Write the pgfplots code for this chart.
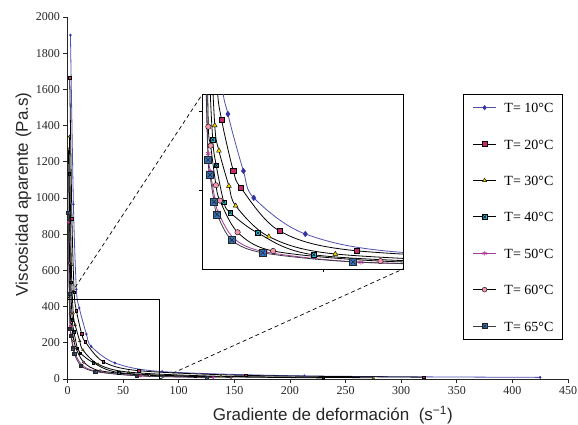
\documentclass[border=0pt]{standalone}
\usepackage{fontspec}
\setmainfont{Liberation Serif}
\newfontfamily\arial{Liberation Sans}
\usepackage{pgfplots}
\pgfplotsset{compat=1.18}
\usepackage{pgfplotstable}

\definecolor{cA}{RGB}{50,50,160}
\definecolor{cAl}{RGB}{80,80,175}
\definecolor{cB}{RGB}{200,40,110}
\definecolor{cC}{RGB}{240,210,0}
\definecolor{cD}{RGB}{30,195,225}
\definecolor{cE}{RGB}{190,50,150}
\definecolor{cEl}{RGB}{160,60,150}
\definecolor{cF}{RGB}{245,150,170}
\definecolor{cG}{RGB}{50,115,195}
\definecolor{cGl}{RGB}{60,60,70}

\pgfdeclareplotmark{sqx}{%
  \pgfpathrectangle{\pgfqpoint{-\pgfplotmarksize}{-\pgfplotmarksize}}{\pgfqpoint{2\pgfplotmarksize}{2\pgfplotmarksize}}%
  \pgfusepathqfillstroke
  \pgfpathmoveto{\pgfqpoint{-.65\pgfplotmarksize}{-.65\pgfplotmarksize}}%
  \pgfpathlineto{\pgfqpoint{.65\pgfplotmarksize}{.65\pgfplotmarksize}}%
  \pgfpathmoveto{\pgfqpoint{-.65\pgfplotmarksize}{.65\pgfplotmarksize}}%
  \pgfpathlineto{\pgfqpoint{.65\pgfplotmarksize}{-.65\pgfplotmarksize}}%
  \pgfusepathqstroke}

\pgfplotstableread{
x y
2.66 1900
5.32 965
7.98 495
10.6 392
17.0 248
21.3 180
42.6 88.6
85.1 41
213 17
425 9
}\tA
\pgfplotstableread{
x y
2.0 1665
4.0 885
6.0 480
8.0 377
12.8 249
16.0 205
32.0 96
64.0 46
160 20
320 10
}\tB
\pgfplotstableread{
x y
1.72 1340
3.44 630
5.16 363
6.88 299
11.0 210
13.8 160
27.5 82
55.0 38
138 15
275 7
}\tC
\pgfplotstableread{
x y
1.44 1134
2.88 534
4.32 327
5.76 262
8.9 169
11.5 143
23.0 91
46.1 36
115 15
230 6
}\tD
\pgfplotstableread{
x y
0.82 866
1.64 470
2.46 292
3.28 247
5.25 176
6.56 144
13.1 77
26.2 43
65.6 17
131 8.5
}\tE
\pgfplotstableread{
x y
0.92 1270
1.84 640
2.5 360
3.45 312
5.65 212
7.3 173
14.6 93
29.3 45.6
73.7 20
147 10
}\tF
\pgfplotstableread{
x y
0.78 918
1.56 470
2.4 276
3.15 238
4.9 170
6.1 138
12.2 73
25.0 41
62.4 18
125 8.5
}\tG

\pgfplotsset{
  sA/.style={color=cAl, line width=0.8pt, smooth, mark=diamond*, mark options={fill=cA, draw=cA, line width=0.3pt}},
  sB/.style={draw=black, line width=0.8pt, smooth, mark=square*, mark options={fill=cB, draw=black, line width=0.4pt}},
  sC/.style={draw=black, line width=0.8pt, smooth, mark=triangle*, mark options={fill=cC, draw=black, line width=0.4pt}},
  sD/.style={draw=black, line width=0.8pt, smooth, mark=sqx, mark options={fill=cD, draw=black, line width=0.5pt}},
  sE/.style={draw=cEl, line width=0.8pt, smooth, mark=asterisk, mark options={draw=cE, line width=0.6pt}},
  sF/.style={draw=black, line width=0.8pt, smooth, mark=*, mark options={fill=cF, draw=black, line width=0.4pt}},
  sG/.style={draw=cGl, line width=0.8pt, smooth, mark=sqx, mark options={fill=cG, draw=black!85, line width=0.6pt}},
}

\begin{document}
\begin{tikzpicture}
\path[use as bounding box] (0pt,0pt) rectangle (578pt,425pt);
\begin{axis}[
  name=main,
  at={(67.5pt,46pt)}, anchor=south west,
  scale only axis, width=500.5pt, height=362pt,
  xmin=0, xmax=450, ymin=0, ymax=2000,
  axis x line*=bottom, axis y line*=left,
  axis line style={-, black!85, line width=0.8pt},
  xtick={0,50,100,150,200,250,300,350,400,450},
  xticklabels={0,50,100,150,200,250,300,350,400,450},
  ytick={0,200,400,600,800,1000,1200,1400,1600,1800,2000},
  yticklabels={0,200,400,600,800,1000,1200,1400,1600,1800,2000},
  tick align=outside, major tick length=4pt,
  tick style={black!85, line width=0.6pt},
  tick label style={font=\rmfamily\fontsize{12}{14}\selectfont, black!85},
  xlabel={\arial Gradiente de deformación\ \ (s\textsuperscript{−1})},
  ylabel={\arial Viscosidad aparente (Pa.s)},
  label style={font=\fontsize{17}{19}\selectfont, black!85},
  xlabel style={at={(axis description cs:0.53,0)}, anchor=base, yshift=-42pt},
  ylabel style={at={(axis description cs:-0.079,0.51)}, anchor=base},
  legend style={at={(0.7908,0.7865)}, anchor=north west, draw=black, line width=0.8pt, fill=white,
    font=\fontsize{14}{16}\selectfont, row sep=26.4pt, column sep=8pt,
    inner xsep=9pt, inner ysep=8pt,
    nodes={inner sep=0pt, text height=10pt, text depth=0pt}},
  legend cell align=left,
  legend image code/.code={\draw[mark repeat=2, mark phase=2, #1] plot coordinates {(0pt,0pt) (11.5pt,0pt) (23pt,0pt)};},
  legend image post style={mark size=2.4pt},
]
\addplot[sA, mark size=1.3pt] table {\tA}; \addlegendentry{T= 10°C}
\addplot[sB, mark size=1.3pt] table {\tB}; \addlegendentry{T= 20°C}
\addplot[sC, mark size=1.4pt] table {\tC}; \addlegendentry{T= 30°C}
\addplot[sD, mark size=1.3pt] table {\tD}; \addlegendentry{T= 40°C}
\addplot[sE, mark size=1.4pt] table {\tE}; \addlegendentry{T= 50°C}
\addplot[sF, mark size=1.3pt] table {\tF}; \addlegendentry{T= 60°C}
\addplot[sG, mark size=1.6pt] table {\tG}; \addlegendentry{T= 65°C}
\draw[black, line width=0.8pt] (axis cs:0,0) rectangle (axis cs:83,442);
\coordinate (rTL) at (axis cs:0,442);
\coordinate (rBR) at (axis cs:83,0);
\end{axis}
\begin{axis}[
  name=inset,
  at={(202.3pt,156pt)}, anchor=south west,
  scale only axis, width=200.7pt, height=174.7pt,
  xmin=0, xmax=83, ymin=0, ymax=442,
  axis background/.style={fill=white},
  axis line style={black, line width=0.8pt},
  xtick={50}, ytick={200,400},
  xticklabels={}, yticklabels={},
  tick pos=left, tick align=outside, major tick length=3pt,
  tick style={black, line width=0.6pt},
]
\addplot[sA, mark size=2.9pt] table {\tA};
\addplot[sB, mark size=2.6pt] table {\tB};
\addplot[sC, mark size=2.8pt] table {\tC};
\addplot[sD, mark size=2.3pt] table {\tD};
\addplot[sE, mark size=2.6pt] table {\tE};
\addplot[sF, mark size=2.7pt] table {\tF};
\addplot[sG, mark size=3.5pt] table {\tG};
\end{axis}
\draw[black, line width=0.7pt, dash pattern=on 4pt off 3pt] (rTL) -- (inset.north west);
\draw[black, line width=0.7pt, dash pattern=on 4pt off 3pt] (rBR) -- (inset.south east);
\end{tikzpicture}
\end{document}
